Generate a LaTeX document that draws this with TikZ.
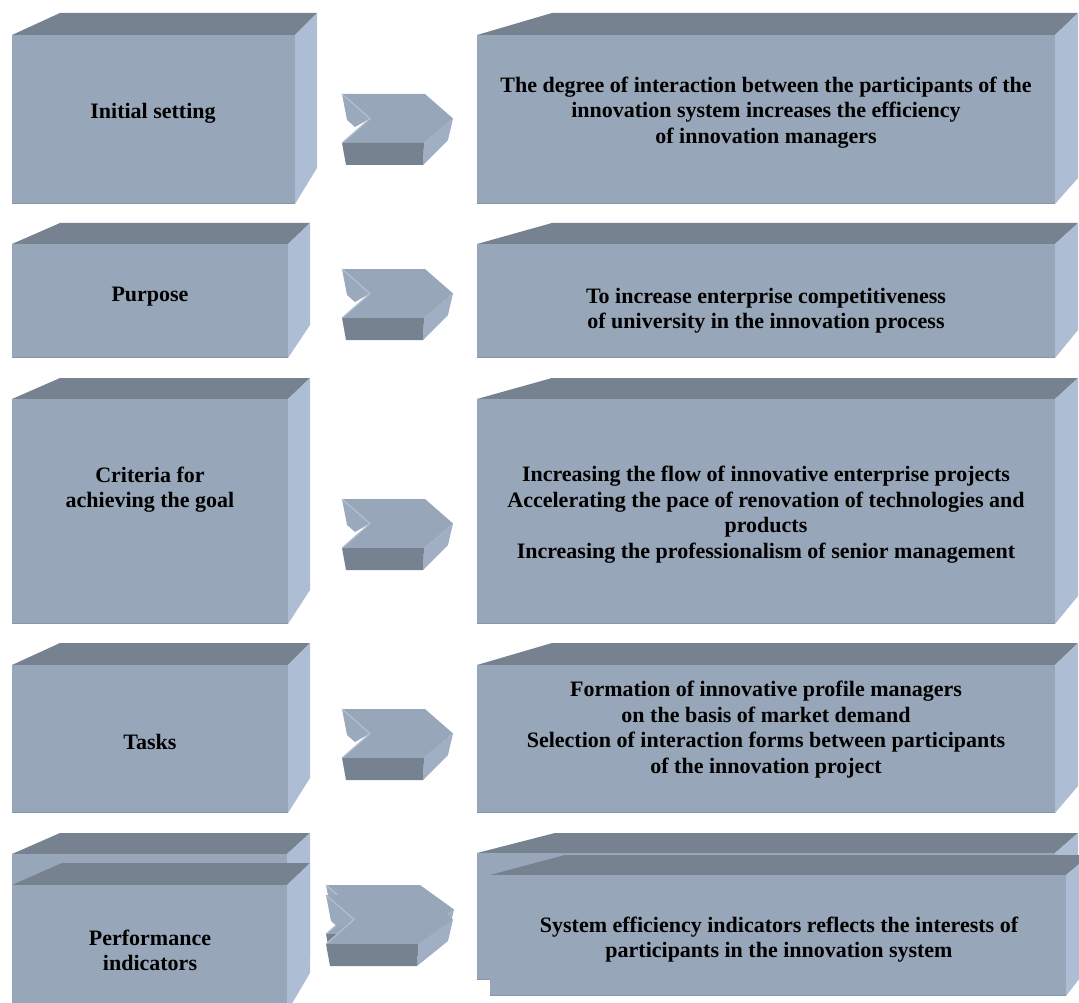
\documentclass[tikz,border=0pt]{standalone}
\usepackage{fontspec}
\setmainfont{Liberation Serif}
\definecolor{facefront}{HTML}{97A6B8}
\definecolor{facetop}{HTML}{76828F}
\definecolor{faceside}{HTML}{ADBDD3}
\definecolor{facerim}{HTML}{8795A8}
\definecolor{chevside}{HTML}{A0AFC3}
\definecolor{chevinner}{HTML}{9AA9BC}
\definecolor{chevlight}{HTML}{B3C1D4}
% block: front-left x, front-top y, front-right x, front-bottom y,
%        back-top y, back-left x, back-right x, bottom y of the back-right edge
\newcommand\blockbox[8]{%
  \fill[facetop] (#1,#2) -- (#6,#5) -- (#7,#5) -- (#3,#2) -- cycle;
  \fill[faceside] (#3,#2) -- (#7,#5) -- (#7,#8) -- (#3,#4) -- cycle;
  \fill[facefront] (#1,#2) rectangle (#3,#4);
  \draw[facerim, line width=1.2pt] (#1,#4-0.6) -- (#3,#4-0.6);
}
% chevron: top-left x, top-left y, top edge length, tip offset
\newcommand\chevron[4]{%
  \fill[chevinner] (#1,#2) -- (#1+28,#2+24.5) -- (#1+13,#2+33) -- (#1+5,#2+26) -- cycle;
  \fill[facefront] (#1,#2) -- (#1+#3,#2) -- (#1+#4,#2+24.5) -- (#1+#3-1,#2+49)
     -- (#1,#2+49) -- (#1+28,#2+24.5) -- cycle;
  \fill[chevside] (#1+#3-1,#2+49) -- (#1+#4,#2+24.5) -- (#1+#4-5,#2+46) -- (#1+#3-2,#2+71) -- cycle;
  \fill[facetop] (#1,#2+49) -- (#1+#3-1,#2+49) -- (#1+#3-2,#2+71) -- (#1+4,#2+71) -- cycle;
  \draw[chevlight, line width=1.1pt] (#1,#2) -- (#1+28,#2+24.5) -- (#1,#2+49);
}
\begin{document}
\begin{tikzpicture}[x=1pt, y=-1pt,
  label/.style={font=\bfseries\fontsize{22}{25.5}\selectfont, align=center, text=black, inner sep=0pt}]
\useasboundingbox (0,0) rectangle (1079,1003);
\clip (0,0) rectangle (1079,1003);

% left column
\blockbox{12}{35}{295}{204}{13}{60}{317}{168}
\blockbox{12}{244}{288}{358}{223}{60}{310}{325}
\blockbox{12}{399}{288}{624}{378}{60}{310}{590}
\blockbox{12}{665}{288}{813}{643}{60}{310}{778}
\blockbox{12}{854}{287}{990}{833}{60}{310}{955}
\blockbox{12}{885}{287}{1012}{863}{62}{310}{973}

% right column
\blockbox{477}{35}{1055}{204}{13}{552}{1078}{178}
\blockbox{477}{244}{1055}{358}{223}{552}{1078}{330}
\blockbox{477}{399}{1055}{624}{378}{552}{1078}{596}
\blockbox{477}{665}{1055}{813}{643}{552}{1078}{786}
\blockbox{477}{853}{1055}{980}{833}{555}{1078}{955}
\blockbox{490}{875}{1066}{996}{855}{565}{1090}{965}

% chevrons between the columns
\chevron{342}{94}{83}{111}
\chevron{342}{269}{83}{111}
\chevron{342}{499}{83}{111}
\chevron{342}{709}{83}{111}
\chevron{326}{885}{94}{128}
\chevron{326}{895}{93}{127}

% left labels
\node[label] (l1) at (153,113.5) {Initial setting};
\node[label] (l2) at (150,296.5) {Purpose};
\node[label] (l3) at (150,489.5) {Criteria for\\achieving the goal};
\node[label] (l4) at (150,742) {Tasks};
\node[label] (l5) at (150,950.5) {Performance\\indicators};

% right labels
\node[label] (r1) at (766,112.5) {The degree of interaction between the participants of the\\innovation system increases the efficiency\\of innovation managers};
\node[label] (r2) at (766,310.5) {To increase enterprise competitiveness\\of university in the innovation process};
\node[label] (r3) at (766,514.5) {Increasing the flow of innovative enterprise projects\\Accelerating the pace of renovation of technologies and\\products\\Increasing the professionalism of senior management};
\node[label] (r4) at (766,729.5) {Formation of innovative profile managers\\on the basis of market demand\\Selection of interaction forms between participants\\of the innovation project};
\node[label] (r5) at (779,939.5) {System efficiency indicators reflects the interests of\\participants in the innovation system};
\end{tikzpicture}
\end{document}
